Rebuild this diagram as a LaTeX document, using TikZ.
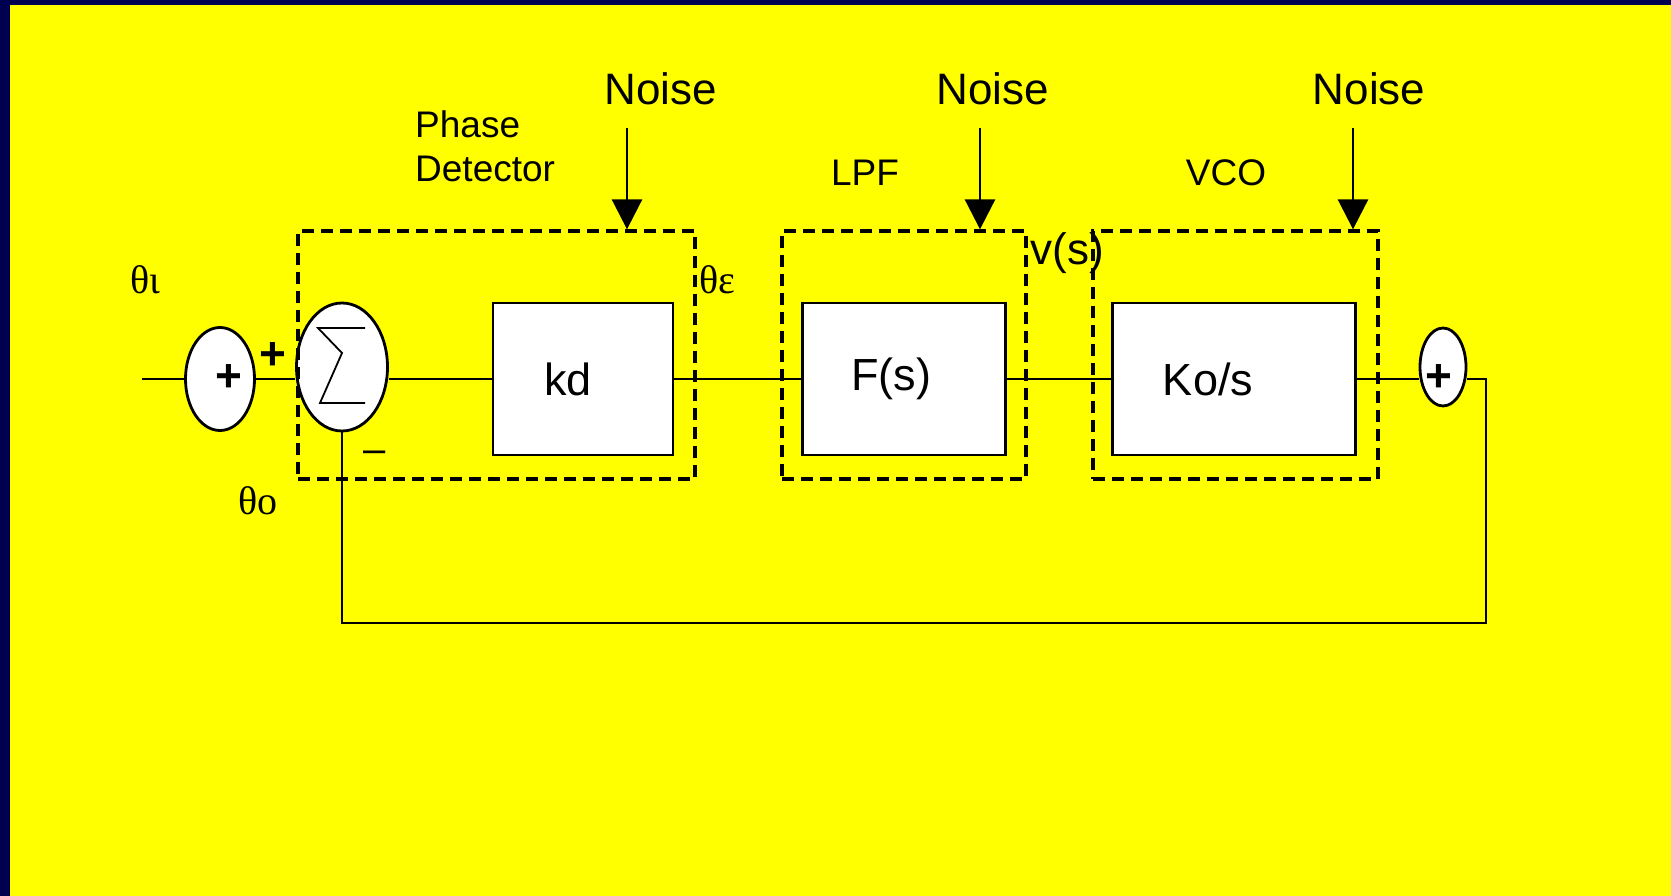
\documentclass[tikz,border=0pt]{standalone}
\usepackage{fontspec}
\setmainfont{Liberation Sans}
\newfontfamily\greekfont{Liberation Serif}
\usetikzlibrary{shapes.geometric,arrows.meta}
\definecolor{slidenavy}{RGB}{0,0,80}
\definecolor{slideyellow}{RGB}{255,255,0}
\tikzset{
  blockbox/.style={draw,fill=white,line width=2.8pt,minimum height=152pt,inner sep=0pt,font=\fontsize{45}{50}\selectfont},
  sumnode/.style={draw,fill=white,ellipse,line width=2.8pt,inner sep=0pt},
  groupbox/.style={draw,line width=3.3pt,dash pattern=on 12pt off 7pt,inner sep=0pt,minimum height=248pt},
  signal/.style={line width=2.5pt},
  noisearrow/.style={line width=2.8pt,-{Triangle[length=30pt,width=30pt]}},
  bigtext/.style={font=\fontsize{44}{50}\selectfont,inner sep=0pt},
  smalltext/.style={font=\fontsize{37}{44}\selectfont,inner sep=0pt},
  greektext/.style={font=\greekfont\fontsize{40}{44}\selectfont,inner sep=0pt},
  signtext/.style={font=\bfseries\fontsize{46}{50}\selectfont,inner sep=0pt}
}
\begin{document}
\begin{tikzpicture}[x=1pt,y=-1pt]
        \useasboundingbox (0,0) rectangle (1671,896);
        \fill[slidenavy] (0,0) rectangle (1671,896);
        \fill[slideyellow] (10,5) rectangle (1671,896);

        % summing points and blocks
        \coordinate (in) at (142,379);
        \node[sumnode,minimum width=69pt,minimum height=103pt] (sum1) at (220,379) {};
        \node[sumnode,minimum width=91pt,minimum height=128pt] (sigma) at (342,367) {};
        \node[blockbox,minimum width=180pt] (kd) at (583,379) {kd\kern30pt};
        \node[blockbox,minimum width=203pt] (fs) at (904,379) {F(s)\kern26pt};
        \node[blockbox,minimum width=243pt] (kos) at (1234,379) {Ko/s\kern52pt};
        \node[sumnode,minimum width=46pt,minimum height=78pt] (sum2) at (1443,367) {};
        \coordinate (fb) at (1486,623);

        \draw[line width=1.8pt] (365,328) -- (318,328) -- (342,353) -- (320,403) -- (365,403);
        \node[signtext] (plus1) at (229,378) {+};
        \node[signtext] (plus2) at (1439,378) {+};
        \node[signtext] (plusin) at (273,356) {+};
        \node[font=\fontsize{40}{44}\selectfont,inner sep=0pt] (minus) at (375,457) {–};

        % signal path
        \draw[signal] (in) -- (sum1.west);
        \draw[signal] (sum1.east) -- (sum1.east -| sigma.west);
        \draw[signal] (kd.west -| sigma.east) -- (kd.west);
        \draw[signal] (kd.east) -- (fs.west);
        \draw[signal] (fs.east) -- (kos.west);
        \draw[signal] (kos.east) -- (kos.east -| sum2.west);
        \draw[signal] (kos.east -| sum2.east) -| (fb) -| (sigma.south);

        % dashed groups
        \node[groupbox,minimum width=397pt] (pd) at (496.5,355) {};
        \node[groupbox,minimum width=244pt] (lpf) at (904,355) {};
        \node[groupbox,minimum width=285pt] (vco) at (1235.5,355) {};

        \node[smalltext,anchor=west,align=left] (pdlabel) at (415,146) {Phase\\Detector};
        \node[smalltext] (lpflabel) at (865,173) {LPF};
        \node[smalltext] (vcolabel) at (1226,173) {VCO};

        % noise inputs
        \node[bigtext] (noise1) at (661,89) {Noise};
        \node[bigtext] (noise2) at (993,89) {Noise};
        \node[bigtext] (noise3) at (1369,89) {Noise};
        \coordinate (n1top) at (627,128);
        \coordinate (n2top) at (980,128);
        \coordinate (n3top) at (1353,128);
        \draw[noisearrow] (n1top) -- (n1top |- pd.north);
        \draw[noisearrow] (n2top) -- (n2top |- lpf.north);
        \draw[noisearrow] (n3top) -- (n3top |- vco.north);

        \node[greektext] (thetai) at (145,280) {θι};
        \node[greektext] (thetae) at (717,280) {θε};
        \node[greektext] (thetao) at (258,501) {θο};
        \node[bigtext] (vs) at (1067,253) {v(s)};
\end{tikzpicture}
\end{document}
